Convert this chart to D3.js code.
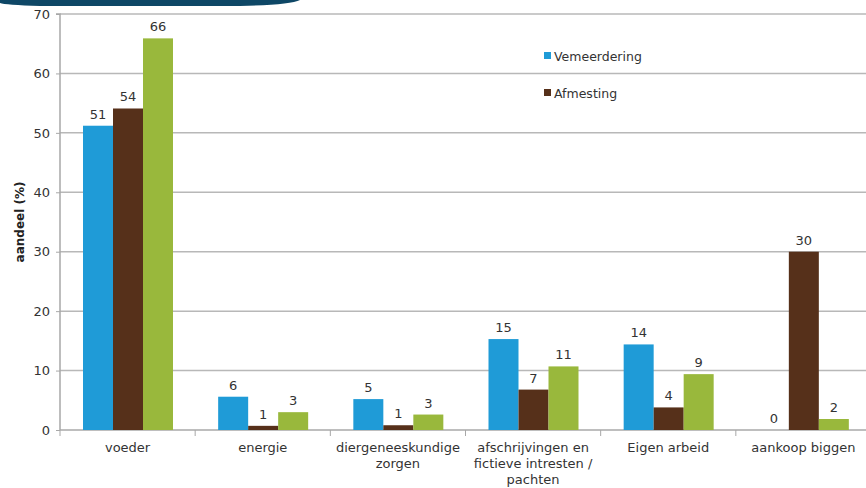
<!DOCTYPE html>
<html><head><meta charset="utf-8">
<script src="https://cdn.jsdelivr.net/npm/d3@7"></script>
<style>
html,body{margin:0;padding:0;background:#fff;}
svg{display:block;font-family:"DejaVu Sans",Verdana,sans-serif;}
</style></head>
<body><svg id="c" width="866" height="488"></svg>
<script>
const categories = [["voeder"],["energie"],["diergeneeskundige","zorgen"],["afschrijvingen en","fictieve intresten /","pachten"],["Eigen arbeid"],["aankoop biggen"]];
const seriesNames = ["Vemeerdering","Afmesting","Totaal"];
const vemeerdering = [51.2, 5.6, 5.2, 15.3, 14.4, 0];
const afmesting = [54.1, 0.7, 0.8, 6.8, 3.8, 30.0];
const totaal = [65.9, 3.0, 2.6, 10.7, 9.4, 1.85];
const yTicks = [0,10,20,30,40,50,60,70];
const colors = ["#1f9bd7","#56301a","#99b83c"];
const legendNames = ["Vemeerdering","Afmesting"];

(function(){
const svg = d3.select("#c");
// decorative header arc
svg.append("path").attr("d","M0,0 L300,0 Q290,5 240,6 L40,6 Q5,5 0,3 Z").attr("fill","#0e4766");

const pl=60, pr=871, pt=14, pb=430;
const x = d3.scaleBand().domain(d3.range(categories.length)).range([pl,pr]);
const xs = d3.scaleBand().domain(d3.range(3)).range([0,90]);
const y = d3.scaleLinear().domain([0,70]).range([pb,pt]);

// gridlines
svg.append("g").selectAll("line").data(yTicks.filter(d=>d>0)).join("line")
  .attr("x1",pl).attr("x2",866).attr("y1",d=>y(d)).attr("y2",d=>y(d))
  .attr("stroke","#b8b8b8").attr("stroke-width",1.5);

// y axis
const ya = svg.append("g").attr("transform",`translate(${pl},0)`)
  .call(d3.axisLeft(y).tickValues(yTicks).tickSize(4).tickPadding(6));
ya.select(".domain").attr("stroke","#a8a8a8").attr("stroke-width",1.5).attr("d",`M-4,${pt}H0V${pb}`);
ya.selectAll(".tick line").attr("stroke","#a8a8a8");
ya.selectAll("text").attr("font-size","13px").attr("fill","#333").attr("font-family","DejaVu Sans");

// x axis
svg.append("line").attr("x1",pl).attr("x2",866).attr("y1",pb).attr("y2",pb).attr("stroke","#a8a8a8").attr("stroke-width",1.5);
svg.append("g").selectAll("line").data(d3.range(categories.length)).join("line")
  .attr("x1",d=>x(d)).attr("x2",d=>x(d)).attr("y1",pb).attr("y2",pb+6).attr("stroke","#a8a8a8");

const series=[vemeerdering,afmesting,totaal];
const g = svg.append("g");
series.forEach((vals,si)=>{
  vals.forEach((v,ci)=>{
    const bx = x(ci)+23+xs(si);
    if(v>0) g.append("rect").attr("x",bx).attr("y",y(v)).attr("width",xs.bandwidth()).attr("height",pb-y(v))
      .attr("fill",colors[si]);
    g.append("text").attr("x",bx+xs.bandwidth()/2).attr("y",y(v)-7).attr("text-anchor","middle")
      .attr("font-size","13px").attr("fill","#333").text(Math.round(v));
  });
});

// x labels
categories.forEach((lines,ci)=>{
  const t = svg.append("text").attr("x",x(ci)+x.bandwidth()/2).attr("y",452).attr("text-anchor","middle")
    .attr("font-size","13px").attr("fill","#333");
  lines.forEach((l,i)=>t.append("tspan").attr("x",x(ci)+x.bandwidth()/2).attr("dy",i?16:0).text(l));
});

// y title
svg.append("text").attr("transform","translate(24,222) rotate(-90)").attr("text-anchor","middle")
  .attr("font-size","12px").attr("font-weight","bold").attr("fill","#222").text("aandeel (%)");

// legend
legendNames.forEach((n,i)=>{
  const ly = 56+i*37;
  svg.append("rect").attr("x",544).attr("y",ly-4).attr("width",7).attr("height",7).attr("fill",colors[i]);
  svg.append("text").attr("x",554).attr("y",ly+4.5).attr("font-size","12.5px").attr("fill","#333").text(n);
});
})();
</script></body></html>
